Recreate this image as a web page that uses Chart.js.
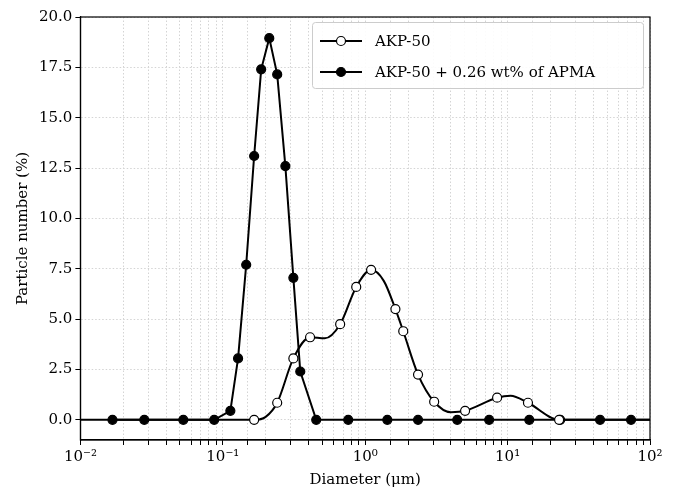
<!DOCTYPE html>
<html><head><meta charset="utf-8">
<script src="https://cdn.jsdelivr.net/npm/chart.js@4"></script>
<style>body{margin:0;background:#fff}#wrap{width:683px;height:493px}</style>
</head><body><div id="wrap"><canvas id="c"></canvas></div>
<script>
// open markers (AKP-50); markerless points only shape the smooth curve
const plainX = [0.0158, 0.166, 0.2, 0.241, 0.313, 0.41, 0.52, 0.667, 0.865, 1.10, 1.35, 1.63, 1.85, 2.35, 3.05, 4.0, 5.03, 8.44, 10.5, 13.9, 23, 100];
const plainY = [0, 0, 0.15, 0.85, 3.05, 4.1, 4.05, 4.75, 6.6, 7.45, 6.9, 5.5, 4.4, 2.25, 0.9, 0.38, 0.45, 1.1, 1.2, 0.85, 0, 0];
const plainMark = [0, 1, 0, 1, 1, 1, 0, 1, 1, 1, 0, 1, 1, 1, 1, 0, 1, 1, 0, 1, 1, 0];
// filled markers (AKP-50 + APMA)
const apmaX = [0.01, 0.0168, 0.0281, 0.0528, 0.087, 0.113, 0.128, 0.146, 0.166, 0.186, 0.212, 0.241, 0.275, 0.313, 0.35, 0.453, 0.76, 1.43, 2.35, 4.43, 7.42, 14.2, 23.4, 44.6, 73.6, 100];
const apmaY = [0, 0, 0, 0, 0, 0.45, 3.05, 7.7, 13.1, 17.4, 18.95, 17.15, 12.6, 7.05, 2.4, 0, 0, 0, 0, 0, 0, 0, 0, 0, 0, 0];
const apmaMark = [0, 1, 1, 1, 1, 1, 1, 1, 1, 1, 1, 1, 1, 1, 1, 1, 1, 1, 1, 1, 1, 1, 1, 1, 1, 0];
const yTicks = [0, 2.5, 5, 7.5, 10, 12.5, 15, 17.5, 20];
const labels = ['AKP-50', 'AKP-50 + 0.26 wt% of APMA'];

const serif = '"DejaVu Serif", serif';
const sup = {'-': '\u207B', '0': '\u2070', '1': '\u00B9', '2': '\u00B2'};

const legendBox = {
  id: 'legendBox',
  afterDraw(chart) {
    const ctx = chart.ctx, a = chart.chartArea;
    ctx.save();
    ctx.strokeStyle = '#000'; ctx.lineWidth = 1.2;
    ctx.strokeRect(a.left, a.top, a.right - a.left, a.bottom - a.top);
    ctx.fillStyle = 'rgba(255,255,255,0.9)';
    ctx.strokeStyle = '#ccc';
    ctx.lineWidth = 1;
    ctx.beginPath();
    ctx.roundRect(312.5, 22.5, 331, 66, 3);
    ctx.fill(); ctx.stroke();
    [0, 1].forEach(i => {
      const y = 41 + i * 31;
      ctx.strokeStyle = '#000'; ctx.lineWidth = 2;
      ctx.beginPath(); ctx.moveTo(320, y); ctx.lineTo(362, y); ctx.stroke();
      ctx.beginPath(); ctx.arc(341, y, 4.5, 0, Math.PI * 2);
      ctx.fillStyle = i ? '#000' : '#fff'; ctx.fill();
      ctx.lineWidth = 1.2; ctx.stroke();
      ctx.fillStyle = '#000'; ctx.font = '15px ' + serif; ctx.textBaseline = 'middle';
      ctx.fillText(labels[i], 375, y + 1);
    });
    ctx.restore();
  }
};

function ds(xs, ys, marks, label, fill) {
  return {
    label,
    data: xs.map((x, i) => ({x, y: ys[i]})),
    borderColor: '#000', borderWidth: 2,
    cubicInterpolationMode: fill ? 'default' : 'monotone',
    tension: 0,
    pointRadius: marks.map(m => m ? 4.5 : 0),
    pointBorderWidth: 1.2,
    pointBorderColor: '#000',
    pointBackgroundColor: fill ? '#000' : '#fff'
  };
}

new Chart(document.getElementById('c'), {
  type: 'line',
  data: { datasets: [ds(plainX, plainY, plainMark, labels[0], false), ds(apmaX, apmaY, apmaMark, labels[1], true)] },
  options: {
    responsive: true, maintainAspectRatio: false, animation: false,
    layout: { padding: { top: 17, right: 33, bottom: 0, left: 10 } },
    plugins: { legend: { display: false }, tooltip: { enabled: false } },
    scales: {
      x: {
        type: 'logarithmic', min: 0.01, max: 100,
        grid: { color: '#d4d4d4', lineWidth: 1, drawTicks: true, tickLength: 5, tickColor: '#000' },
        border: { color: '#000', width: 1.2, dash: [1.5, 2] },
        ticks: {
          color: '#000', font: { family: serif, size: 15 }, maxRotation: 0, autoSkip: false,
          callback(v) {
            const e = Math.log10(v);
            if (Math.abs(e - Math.round(e)) > 1e-6) return '';
            return '10' + String(Math.round(e)).split('').map(c => sup[c]).join('');
          }
        },
        title: { display: true, text: 'Diameter (\u03BCm)', color: '#000', font: { family: serif, size: 15 }, padding: { top: 2 } }
      },
      y: {
        min: -1, max: 20,
        afterBuildTicks(s) { s.ticks = yTicks.map(v => ({value: v})); },
        grid: { color: '#d4d4d4', tickLength: 5, tickColor: '#000' },
        border: { color: '#000', width: 1.2, dash: [1.5, 2] },
        ticks: { color: '#000', font: { family: serif, size: 15 }, callback: v => v.toFixed(1) },
        title: { display: true, text: 'Particle number (%)', color: '#000', font: { family: serif, size: 15 } }
      }
    }
  },
  plugins: [legendBox]
});
</script></body></html>
